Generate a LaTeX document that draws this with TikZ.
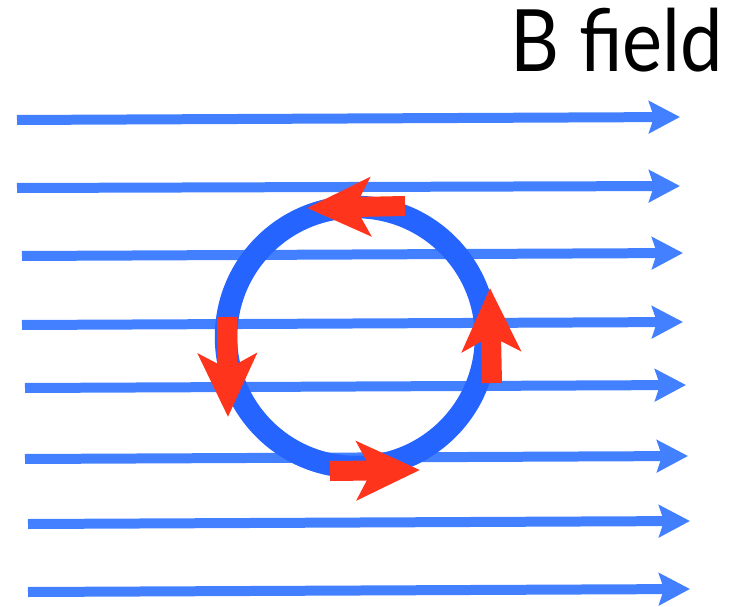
\documentclass[tikz,border=0pt]{standalone}
\usepackage{fontspec}
\setsansfont{Lato}
\usetikzlibrary{arrows.meta}

\definecolor{fieldblue}{RGB}{66,128,255}
\definecolor{loopblue}{RGB}{38,100,255}
\definecolor{currentred}{RGB}{255,52,28}

\begin{document}
\begin{tikzpicture}[x=0.02cm,y=-0.02cm]
\useasboundingbox (0,0) rectangle (732,607);
% field lines
\foreach \xa/\ya/\xb/\yb in {17/120/680/117, 17/188/680/186, 22/256/683/253, 22/325/683/322,
  25/388/686/385, 25/459/688/456, 28/524/690/521, 28/592/690/589}
  \draw[fieldblue,line width=0.2cm,-{Stealth[length=0.62cm,width=0.64cm,inset=0.1cm]}] (\xa,\ya)--(\xb,\yb);
% loop
\coordinate (O) at (356,337);
\draw[loopblue,line width=0.45cm] (O) circle [radius=2.6cm];
% current
\coordinate (T1) at (405,206); \coordinate (T2) at (307,208);
\coordinate (L1) at (227,317); \coordinate (L2) at (228,417);
\coordinate (B1) at (330,471); \coordinate (B2) at (420,470);
\coordinate (R1) at (492,383); \coordinate (R2) at (490,288);
\foreach \a/\b in {T1/T2, L1/L2, B1/B2, R1/R2}
  \draw[currentred,line width=0.4cm,-{Stealth[length=1.26cm,width=1.16cm,inset=0.3cm]}] (\a)--(\b);
\node[anchor=base east,inner sep=0pt,xscale=0.88,font=\sffamily\fontsize{49}{54}\selectfont] (title) at (723,72) {B field};
\end{tikzpicture}
\end{document}
